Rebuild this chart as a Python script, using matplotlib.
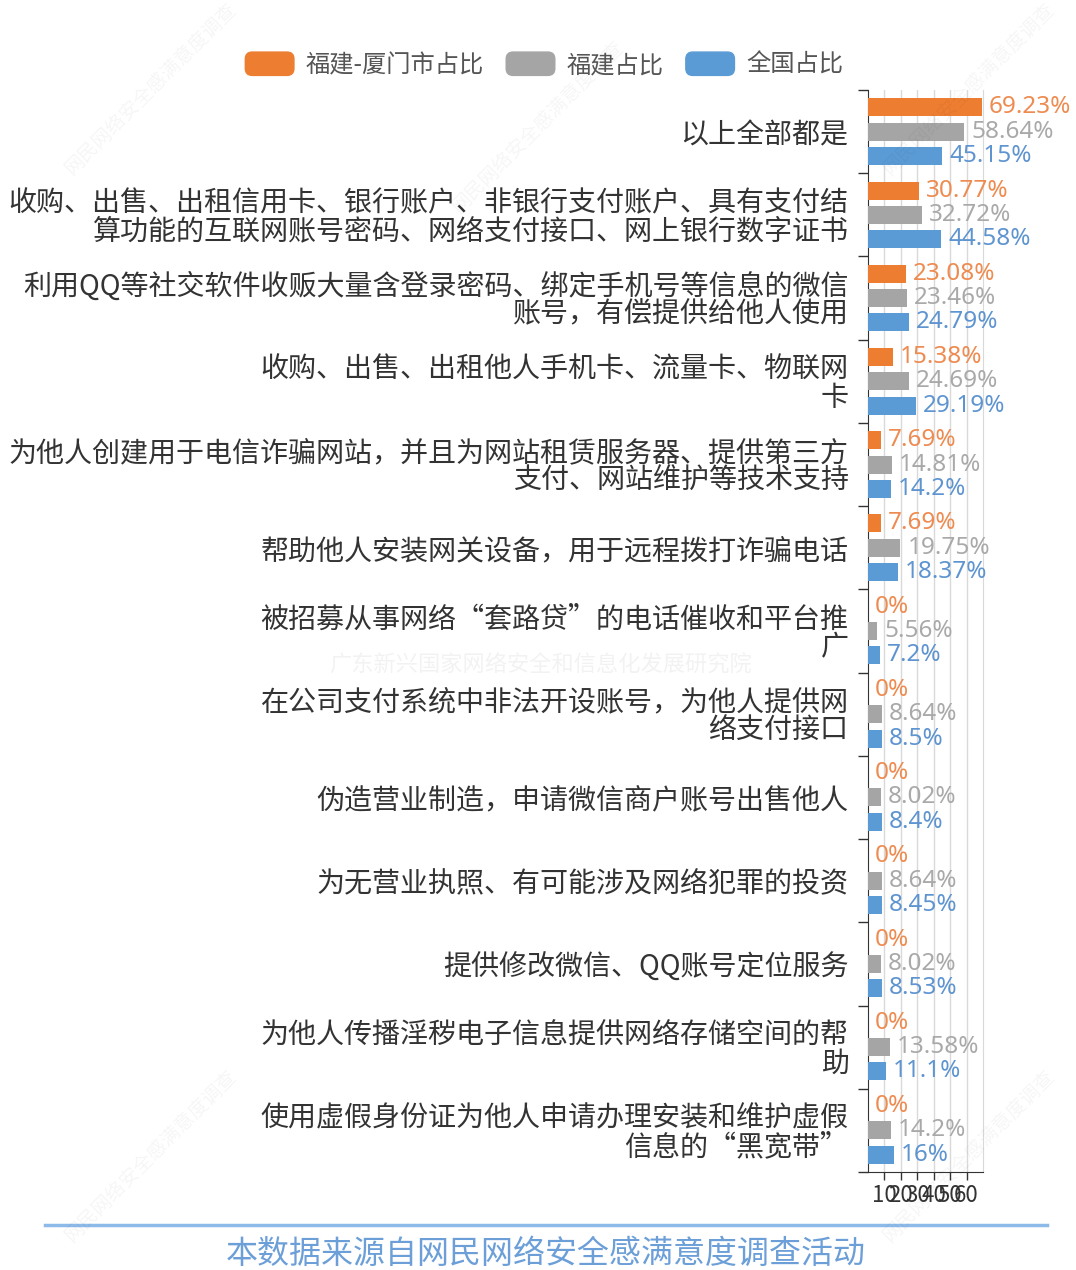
import matplotlib.pyplot as plt
from matplotlib.patches import Patch, FancyBboxPatch
from matplotlib.legend_handler import HandlerPatch
from matplotlib.lines import Line2D
import numpy as np

plt.rcParams['font.family'] = ['Noto Sans CJK SC', 'DejaVu Sans']

categories = [
    '以上全部都是',
    '收购、出售、出租信用卡、银行账户、非银行支付账户、具有支付结\n算功能的互联网账号密码、网络支付接口、网上银行数字证书',
    '利用QQ等社交软件收贩大量含登录密码、绑定手机号等信息的微信\n账号，有偿提供给他人使用',
    '收购、出售、出租他人手机卡、流量卡、物联网\n卡',
    '为他人创建用于电信诈骗网站，并且为网站租赁服务器、提供第三方\n支付、网站维护等技术支持',
    '帮助他人安装网关设备，用于远程拨打诈骗电话',
    '被招募从事网络“套路贷”的电话催收和平台推\n广',
    '在公司支付系统中非法开设账号，为他人提供网\n络支付接口',
    '伪造营业制造，申请微信商户账号出售他人',
    '为无营业执照、有可能涉及网络犯罪的投资',
    '提供修改微信、QQ账号定位服务',
    '为他人传播淫秽电子信息提供网络存储空间的帮\n助',
    '使用虚假身份证为他人申请办理安装和维护虚假\n信息的“黑宽带”',
]
xiamen = [69.23, 30.77, 23.08, 15.38, 7.69, 7.69, 0, 0, 0, 0, 0, 0, 0]
fujian = [58.64, 32.72, 23.46, 24.69, 14.81, 19.75, 5.56, 8.64, 8.02, 8.64, 8.02, 13.58, 14.2]
national = [45.15, 44.58, 24.79, 29.19, 14.2, 18.37, 7.2, 8.5, 8.4, 8.45, 8.53, 11.1, 16]
series_names = ['福建-厦门市占比', '福建占比', '全国占比']
xticks = [10, 20, 30, 40, 50, 60]

bar_colors = ['#ED7D31', '#A5A5A5', '#5B9BD5']
text_colors = ['#EE8B50', '#A9A9A9', '#5E94D0']

fig = plt.figure(figsize=(10.76, 12.7), dpi=100)
ax = fig.add_axes([868/1076, 1 - 1172/1270, 115/1076, 1082/1270])

y = np.arange(len(categories))
h = 0.216
off = 0.292
for i, vals in enumerate([xiamen, fujian, national]):
    pos = y + (i - 1) * off
    ax.barh(pos, vals, height=h, color=bar_colors[i], zorder=3)
    for p, v in zip(pos, vals):
        ax.annotate('%g%%' % v, (v, p), xytext=(5, 0), textcoords='offset points',
                    va='center', ha='left', fontsize=17.5, color=text_colors[i],
                    family=['Noto Sans', 'DejaVu Sans'], zorder=4)

ax.set_xlim(0, 70)
ax.set_ylim(len(categories) - 0.5, -0.5)
ax.set_xticks(xticks)
ax.set_xticklabels([str(t) for t in xticks], fontsize=16, color='#333333')
ax.tick_params(axis='x', length=6, width=1, color='#333333', pad=3)
ax.xaxis.grid(True, color='#d9d9d9', lw=1, zorder=0)

ax.set_yticks(y)
ax.set_yticklabels(categories, fontsize=20.2, color='#333333',
                   ha='right', multialignment='right', linespacing=0.92)
ax.set_yticks(np.arange(len(categories) + 1) - 0.5, minor=True)
ax.tick_params(axis='y', which='major', length=0, pad=14)
ax.tick_params(axis='y', which='minor', length=7, width=1, color='#333333')

ax.spines['top'].set_visible(False)
ax.spines['right'].set_color('#d9d9d9')
ax.spines['left'].set_color('#333333')
ax.spines['bottom'].set_color('#333333')


def rounded(legend, orig_handle, xdescent, ydescent, width, height, fontsize):
    return FancyBboxPatch((-xdescent, -ydescent), width, height,
                          boxstyle='round,pad=0,rounding_size=5')


handles = [Patch(color=c, label=n) for c, n in zip(bar_colors, series_names)]
fig.legend(handles=handles, loc='center', bbox_to_anchor=(0.506, 1 - 65/1270), ncol=3,
           frameon=False, fontsize=17.5, labelcolor='#555555',
           handlelength=2.0, handleheight=1.1, handletextpad=0.5, columnspacing=0.9,
           handler_map={Patch: HandlerPatch(patch_func=rounded)})

# watermark
fig.text(0.502, 1 - 665/1270, '广东新兴国家网络安全和信息化发展研究院', ha='center', va='center',
         fontsize=16, color='#000000', alpha=0.05)
for wx, wy in [(0.14, 0.93), (0.9, 0.93), (0.14, 0.09), (0.9, 0.09), (0.5, 0.9)]:
    fig.text(wx, wy, '网民网络安全感满意度调查', ha='center', va='center', rotation=45,
             fontsize=14, color='#000000', alpha=0.04)

# footer
fig.add_artist(Line2D([45/1076, 1047/1076], [1 - 1225/1270, 1 - 1225/1270],
                      color='#8DBAE8', lw=2.5))
fig.text(0.507, 1 - 1254/1270, '本数据来源自网民网络安全感满意度调查活动', ha='center', va='center',
         fontsize=23, color='#6C9FD8')

fig.savefig('out.png', dpi=100)
